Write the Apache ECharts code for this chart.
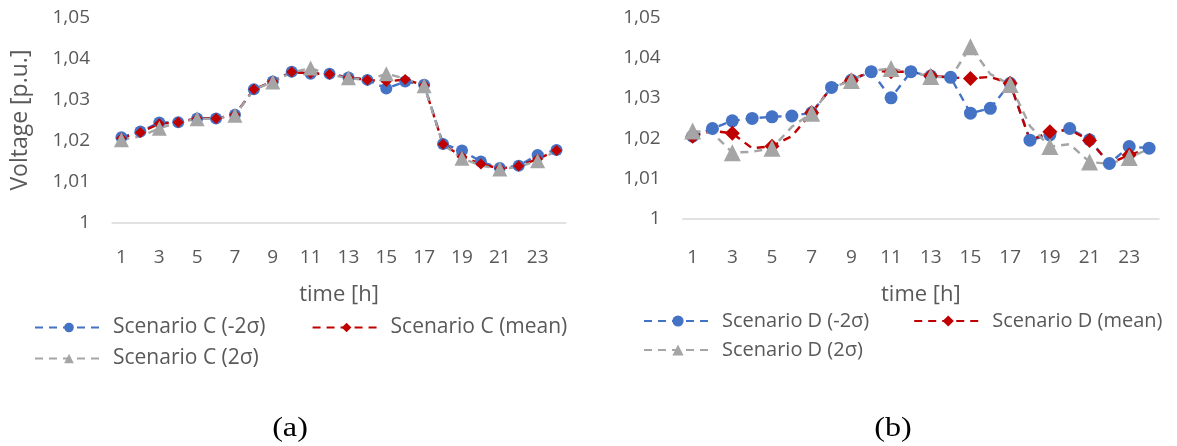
<!DOCTYPE html>
<html><head><meta charset="utf-8">
<script src="https://cdn.jsdelivr.net/npm/echarts@6/dist/echarts.min.js"></script>
<style>html,body{margin:0;padding:0;background:#fff}#c{width:1177px;height:446px}</style>
</head><body><div id="c"></div>
<script>
const hours = ['1','2','3','4','5','6','7','8','9','10','11','12','13','14','15','16','17','18','19','20','21','22','23','24'];
const yTicks = ['1','1,01','1,02','1,03','1,04','1,05'];

const namesC = ['Scenario C (-2σ)', 'Scenario C (mean)', 'Scenario C (2σ)'];
const cMinus = [1.0208,1.0222,1.0244,1.0245,1.0254,1.0254,1.0263,1.0325,1.0344,1.0368,1.0363,1.0363,1.0354,1.0348,1.0327,1.0344,1.0336,1.0192,1.0176,1.0149,1.0133,1.0139,1.0165,1.0177];
const cMean  = [1.0206,1.0220,1.0241,1.0245,1.0254,1.0254,1.0263,1.0325,1.0344,1.0367,1.0364,1.0362,1.0354,1.0348,1.0344,1.0349,1.0335,1.0191,1.0161,1.0143,1.0132,1.0138,1.0155,1.0176];
const cPlus  = [1.0202,1.0210,1.0230,1.0244,1.0253,1.0253,1.0262,1.0324,1.0343,1.0366,1.0377,1.0360,1.0353,1.0347,1.0363,1.0351,1.0334,1.0190,1.0157,1.0139,1.0131,1.0136,1.0151,1.0175];

const namesD = ['Scenario D (-2σ)', 'Scenario D (mean)', 'Scenario D (2σ)'];
const dMinus = [1.0205,1.0224,1.0243,1.0249,1.0253,1.0255,1.0263,1.0326,1.0344,1.0365,1.0300,1.0365,1.0354,1.0351,1.0262,1.0274,1.0336,1.0195,1.0208,1.0224,1.0196,1.0137,1.0179,1.0175];
const dMean  = [1.0205,1.0218,1.0212,1.0175,1.0180,1.0205,1.0263,1.0326,1.0344,1.0367,1.0365,1.0365,1.0354,1.0351,1.0348,1.0352,1.0336,1.0194,1.0216,1.0221,1.0194,1.0137,1.0158,1.0175];
const dPlus  = [1.0218,1.0213,1.0164,1.0166,1.0175,1.0228,1.0262,1.0325,1.0343,1.0367,1.0373,1.0363,1.0353,1.0350,1.0427,1.0359,1.0333,1.0230,1.0179,1.0185,1.0141,1.0136,1.0152,1.0173];

const colors = ['#4472C4', '#C00000', '#A5A5A5'];
const symbols = ['circle', 'diamond', 'triangle'];
const FONT = 'Open Sans';
const TXT = '#595959';

function yFmt(v){ const i = Math.round((v-1)*100); return yTicks[i] !== undefined ? yTicks[i] : ''; }

function mkSeries(names, arrs, gi, symSizes){
  return arrs.map((d,i)=>({
    name: names[i], type:'line', xAxisIndex: gi, yAxisIndex: gi, data: d,
    symbol: symbols[i], symbolSize: symSizes[i],
    lineStyle:{color: colors[i], width: 2.4, type:[8,6]},
    itemStyle:{color: colors[i]},
    emphasis:{disabled:true}, animation:false
  }));
}

function xAx(gi, margin){
  return {type:'category', gridIndex: gi, data: hours, boundaryGap:true,
    axisLine:{lineStyle:{color:'#D9D9D9', width:1.5}}, axisTick:{show:false},
    axisLabel:{interval:1, color:TXT, fontFamily:FONT, fontSize:19, margin: margin},
    name:'time [h]', nameLocation:'middle', nameGap: margin+36,
    nameTextStyle:{color:TXT, fontFamily:FONT, fontSize:22}};
}
function yAx(gi, name){
  return {type:'value', gridIndex: gi, min:1, max:1.05, interval:0.01,
    axisLine:{show:false}, axisTick:{show:false}, splitLine:{show:false},
    axisLabel:{formatter: yFmt, color:TXT, fontFamily:FONT, fontSize:19, margin: 22},
    name: name, nameLocation:'middle', nameGap: 80, nameRotate: 90,
    nameTextStyle:{color:TXT, fontFamily:FONT, fontSize:23}};
}
function lg(names, left, top, gap, ih, fs){
  return {data: names, left: left, top: top, width: 560, itemWidth: 68, itemHeight: ih, itemGap: gap,
    textStyle:{color:TXT, fontFamily:FONT, fontSize:fs, padding:[0,0,0,5]}, padding:0};
}

const chart = echarts.init(document.getElementById('c'), null, {renderer:'canvas'});
chart.setOption({
  backgroundColor:'#fff',
  animation:false,
  grid:[
    {left:112, top:17.5, width:454, height:205.2},
    {left:682.7, top:17.3, width:476.3, height:201.4}
  ],
  xAxis:[xAx(0, 25), xAx(1, 29)],
  yAxis:[yAx(0, 'Voltage [p.u.]'), yAx(1, '')],
  legend:[
    lg([namesC[0], namesC[1]], 34, 317, 46, 12, 21),
    lg([namesC[2]], 34, 348, 46, 12, 21),
    lg([namesD[0], namesD[1]], 643, 311, 44, 14, 20),
    lg([namesD[2]], 643, 340, 44, 14, 20)
  ],
  graphic:[
    {type:'text', x: 290, y: 429, style:{text:'(a)', fontFamily:'Liberation Serif', fontSize:28, fill:'#000', align:'center', verticalAlign:'middle'}, scaleX:1.15},
    {type:'text', x: 893, y: 429, style:{text:'(b)', fontFamily:'Liberation Serif', fontSize:28, fill:'#000', align:'center', verticalAlign:'middle'}, scaleX:1.15}
  ],
  series: [].concat(
    mkSeries(namesC, [cMinus, cMean, cPlus], 0, [12, 11, 15]),
    mkSeries(namesD, [dMinus, dMean, dPlus], 1, [13, 15, 17])
  )
});
</script></body></html>
